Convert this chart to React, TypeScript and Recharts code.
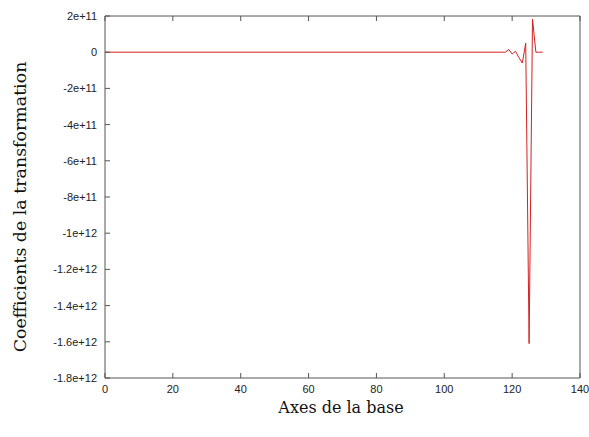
import { Line, LineChart, XAxis, YAxis } from 'recharts'

// Position along the basis and transform coefficient (flat zero up to 118)
const POSITIONS = [0, 118, 119, 120, 121, 122, 123, 124, 125, 126, 127, 128, 129]
const COEFFS = [0, 0, 1.5e10, -1e10, 5e9, -3e10, -6e10, 5e10, -1.61e12, 1.82e11, 0, 0, 0]

const X_TICKS = [0, 20, 40, 60, 80, 100, 120, 140]
const Y_TICKS = [2e11, 0, -2e11, -4e11, -6e11, -8e11, -1e12, -1.2e12, -1.4e12, -1.6e12, -1.8e12]
const Y_TICK_LABELS = [
  '2e+11',
  '0',
  '-2e+11',
  '-4e+11',
  '-6e+11',
  '-8e+11',
  '-1e+12',
  '-1.2e+12',
  '-1.4e+12',
  '-1.6e+12',
  '-1.8e+12',
]

const data = POSITIONS.map((x, i) => ({ x, y: COEFFS[i] }))

const AXIS = '#555'
const TICK_FONT = { fontFamily: 'Liberation Sans, Arial, sans-serif', fontSize: 11, fill: '#222' }

// ticks are drawn inward, gnuplot style
function BottomTick({ x, y, payload }: any) {
  return (
    <g>
      <line x1={x} x2={x} y1={y} y2={y - 5} stroke={AXIS} />
      <text x={x} y={y + 15} textAnchor="middle" {...TICK_FONT}>
        {payload.value}
      </text>
    </g>
  )
}

function TopTick({ x, y }: any) {
  return <line x1={x} x2={x} y1={y} y2={y + 5} stroke={AXIS} />
}

function LeftTick({ x, y, payload }: any) {
  const i = Y_TICKS.indexOf(payload.value)
  return (
    <g>
      <line x1={x} x2={x + 5} y1={y} y2={y} stroke={AXIS} />
      <text x={x - 8} y={y + 4} textAnchor="end" {...TICK_FONT}>
        {Y_TICK_LABELS[i]}
      </text>
    </g>
  )
}

function RightTick({ x, y }: any) {
  return <line x1={x} x2={x - 5} y1={y} y2={y} stroke={AXIS} />
}

export default function App() {
  return (
    <div style={{ position: 'absolute', left: 0, top: 0, width: 589, height: 437, background: '#fff' }}>
      <LineChart width={589} height={437} data={data} margin={{ top: 15, right: 8, bottom: 0, left: 0 }}>
        <XAxis
          dataKey="x"
          type="number"
          domain={[0, 140]}
          ticks={X_TICKS}
          height={59}
          stroke={AXIS}
          tickLine={false}
          tickSize={0}
          tickMargin={0}
          interval={0}
          tick={<BottomTick />}
        />
        <XAxis
          xAxisId="top"
          orientation="top"
          dataKey="x"
          type="number"
          domain={[0, 140]}
          ticks={X_TICKS}
          height={1}
          stroke={AXIS}
          tickLine={false}
          tickSize={0}
          tickMargin={0}
          interval={0}
          tick={<TopTick />}
        />
        <YAxis
          type="number"
          domain={[-1.8e12, 2e11]}
          ticks={Y_TICKS}
          width={105}
          stroke={AXIS}
          tickLine={false}
          tickSize={0}
          tickMargin={0}
          interval={0}
          tick={<LeftTick />}
        />
        <YAxis
          yAxisId="right"
          orientation="right"
          type="number"
          domain={[-1.8e12, 2e11]}
          ticks={Y_TICKS}
          width={1}
          stroke={AXIS}
          tickLine={false}
          tickSize={0}
          tickMargin={0}
          interval={0}
          tick={<RightTick />}
        />
        <Line
          type="linear"
          dataKey="y"
          stroke="#d42020"
          strokeWidth={1}
          dot={false}
          isAnimationActive={false}
        />
      </LineChart>
      <div
        style={{
          position: 'absolute',
          left: 341,
          top: 398,
          transform: 'translateX(-50%)',
          whiteSpace: 'nowrap',
          fontFamily: 'DejaVu Serif, serif',
          fontSize: 16,
          color: '#111',
        }}
      >
        Axes de la base
      </div>
      <div
        style={{
          position: 'absolute',
          left: 20,
          top: 207,
          transform: 'translate(-50%, -50%) rotate(-90deg)',
          whiteSpace: 'nowrap',
          fontFamily: 'DejaVu Serif, serif',
          fontSize: 17.4,
          color: '#111',
        }}
      >
        Coefficients de la transformation
      </div>
    </div>
  )
}
